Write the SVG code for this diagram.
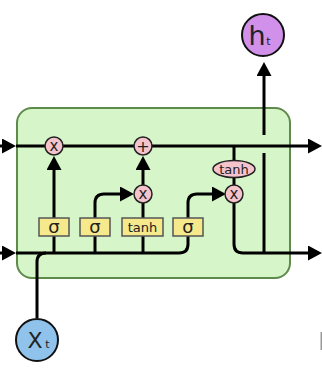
<svg xmlns="http://www.w3.org/2000/svg" width="322" height="377" viewBox="0 0 322 377">
<style>
.ln{fill:none;stroke:#000;stroke-width:3}
.op{fill:#f5c3cc;stroke:#222;stroke-width:1.5}
.gate{fill:#f5e98c;stroke:#555;stroke-width:1.5}
.t{font-family:"DejaVu Sans",sans-serif;fill:#222;text-anchor:middle}
</style>
<defs>
<marker id="arr" markerUnits="userSpaceOnUse" markerWidth="16" markerHeight="16" refX="2" refY="7.5" orient="auto">
<path d="M0,0 L14,7.5 L0,15 z" fill="#000"/>
</marker>
</defs>
<rect id="cell" x="17" y="108" width="273" height="170" rx="15" ry="15" fill="#d6f5c8" stroke="#5e8a4c" stroke-width="2"/>
<g id="connectors">
<path class="ln" d="M0,146 H4" marker-end="url(#arr)"/>
<path class="ln" d="M16,146 H310" marker-end="url(#arr)"/>
<path class="ln" d="M0,253 H4" marker-end="url(#arr)"/>
<path class="ln" d="M16,253 H179 Q188,253 188,244 V203 Q188,194 197,194 H214" marker-end="url(#arr)"/>
<path class="ln" d="M37,318 V262 Q37,253 46,253"/>
<path class="ln" d="M54,253 V168" marker-end="url(#arr)"/>
<path class="ln" d="M95,253 V203 Q95,194 104,194 H122" marker-end="url(#arr)"/>
<path class="ln" d="M143,253 V168" marker-end="url(#arr)"/>
<path class="ln" d="M234,146 V194"/>
<path class="ln" d="M234,194 V244 Q234,253 243,253 H310" marker-end="url(#arr)"/>
<path class="ln" d="M264,253 V153"/>
<path class="ln" d="M264,135 V74" marker-end="url(#arr)"/>
</g>
<g id="forget-mul"><circle class="op" cx="54" cy="146" r="9"/><text class="t" x="54" y="151" font-size="15">x</text></g>
<g id="add"><circle class="op" cx="143" cy="146" r="9"/><text class="t" x="143" y="151.5" font-size="16">+</text></g>
<g id="input-mul"><circle class="op" cx="143" cy="194" r="9"/><text class="t" x="143" y="199" font-size="15">x</text></g>
<g id="output-mul"><circle class="op" cx="234" cy="194" r="9"/><text class="t" x="234" y="199" font-size="15">x</text></g>
<g id="tanh-op"><ellipse class="op" cx="234" cy="169" rx="21" ry="8.5"/><text class="t" x="234" y="173.5" font-size="13">tanh</text></g>
<g id="sigma1"><rect class="gate" x="39" y="218" width="30" height="18"/><text class="t" x="54" y="233" font-size="18">σ</text></g>
<g id="sigma2"><rect class="gate" x="80" y="218" width="30" height="18"/><text class="t" x="95" y="233" font-size="18">σ</text></g>
<g id="tanh-gate"><rect class="gate" x="122" y="218" width="41" height="18"/><text class="t" x="142.5" y="232" font-size="13">tanh</text></g>
<g id="sigma3"><rect class="gate" x="173" y="218" width="30" height="18"/><text class="t" x="188" y="233" font-size="18">σ</text></g>
<g id="ht"><circle cx="263" cy="35" r="21" fill="#d190ea" stroke="#111" stroke-width="2"/><text class="t" x="257" y="45" font-size="27">h</text><text class="t" x="268.5" y="45" font-size="11">t</text></g>
<g id="xt"><circle cx="37" cy="340" r="21" fill="#8fc3ec" stroke="#111" stroke-width="2"/><text class="t" x="35" y="348" font-size="22">X</text><text class="t" x="47.5" y="348" font-size="11">t</text></g>
<rect x="320.5" y="332" width="1.5" height="18" fill="#999"/>
</svg>
